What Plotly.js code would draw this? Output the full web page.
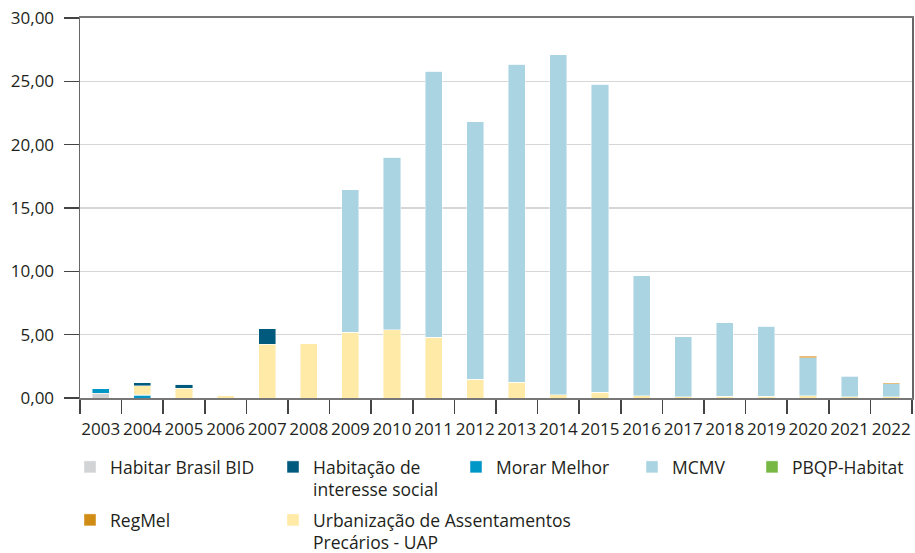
<!DOCTYPE html>
<html>
<head>
<meta charset="utf-8">
<script src="https://cdn.plot.ly/plotly-3.0.1.min.js"></script>
<style>html,body{margin:0;padding:0;background:#fff;}#chart{width:915px;height:553px;}</style>
</head>
<body>
<div id="chart"></div>
<script>
var years = ['2003','2004','2005','2006','2007','2008','2009','2010','2011','2012','2013','2014','2015','2016','2017','2018','2019','2020','2021','2022'];
var habitarBrasilBID = [0.37,0,0,0,0,0,0,0,0,0,0,0,0,0,0,0,0,0,0,0];
var morarMelhor      = [0.40,0.20,0,0,0,0,0,0,0,0,0,0,0,0,0,0,0,0,0,0];
var pbqpHabitat      = [0,0.05,0,0,0,0,0,0,0,0,0,0,0,0,0,0,0,0,0,0];
var uap              = [0,0.71,0.77,0.20,4.25,4.30,5.20,5.40,4.80,1.47,1.24,0.24,0.45,0.18,0.10,0.12,0.12,0.18,0.08,0.10];
var habitacaoSocial  = [0,0.24,0.32,0,1.20,0,0,0,0,0,0,0,0,0,0,0,0,0,0,0];
var mcmv             = [0,0,0,0,0,0,11.26,13.60,21.00,20.33,25.11,26.86,24.32,9.47,4.73,5.81,5.55,3.00,1.64,1.04];
var regMel           = [0,0,0,0,0,0,0,0,0,0,0,0,0,0,0,0,0,0.10,0.05,0.08];

var names = {
  bid: 'Habitar Brasil BID',
  hab: 'Habitação de<br>interesse social',
  mm: 'Morar Melhor',
  mcmv: 'MCMV',
  pbqp: 'PBQP-Habitat',
  reg: 'RegMel',
  uap: 'Urbanização de Assentamentos<br>Precários - UAP'
};

function tr(name, vals, color, leg) {
  return {
    type: 'bar', x: years, y: vals, name: name, legend: leg,
    marker: {color: color, line: {color: 'rgba(255,255,255,0.55)', width: 0.8}},
    hoverinfo: 'x+y+name'
  };
}

var data = [
  tr(names.bid, habitarBrasilBID, '#d2d3d5', 'legend'),
  tr(names.mm, morarMelhor, '#0096c6', 'legend3'),
  tr(names.pbqp, pbqpHabitat, '#76b843', 'legend5'),
  tr(names.uap, uap, '#ffeaa7', 'legend7'),
  tr(names.hab, habitacaoSocial, '#005a7e', 'legend2'),
  tr(names.mcmv, mcmv, '#abd4e2', 'legend4'),
  tr(names.reg, regMel, '#d18c15', 'legend6')
];

var L = 80, R = 3, T = 18, B = 155;
var plotW = 915 - L - R, plotH = 553 - T - B;
function px2x(px) { return (px - 40 - L) / plotW; }
function py2y(py) { return (553 - B - py) / plotH; }

var legFont = {family: 'Open Sans, sans-serif', size: 17.5, color: '#231f20'};
function leg(txtLeft, top) {
  return {x: px2x(txtLeft), y: py2y(top), xanchor: 'left', yanchor: 'top',
          bgcolor: 'rgba(0,0,0,0)', font: legFont, valign: 'top',
          orientation: 'v', borderwidth: 0, itemclick: false};
}

var row1 = 449, row2 = 502;
var layout = {
  width: 915, height: 553,
  margin: {l: L, r: R, t: T, b: B, pad: 0, autoexpand: false},
  paper_bgcolor: '#ffffff', plot_bgcolor: '#ffffff',
  barmode: 'stack', bargap: 0.59,
  separators: ',.',
  font: {family: 'Open Sans, sans-serif', color: '#231f20'},
  xaxis: {
    type: 'category', tickson: 'boundaries', ticks: 'outside', ticklen: 14,
    tickcolor: '#444', tickwidth: 1.5,
    showline: true, mirror: true, linecolor: '#777', linewidth: 2,
    showgrid: false, tickfont: {size: 17, color: '#231f20'}, tickangle: 0,
    ticklabelstandoff: 15,
    automargin: false, fixedrange: true
  },
  yaxis: {
    range: [0, 30], dtick: 5, tickformat: '.2f', ticks: 'outside', ticklen: 15,
    tickcolor: '#444', tickwidth: 1.5,
    showline: true, mirror: true, linecolor: '#666', linewidth: 1.5,
    showgrid: true, gridcolor: '#d6d6d6', gridwidth: 1.5, zeroline: false,
    tickfont: {size: 17, color: '#231f20'}, ticklabelstandoff: 6,
    automargin: false, fixedrange: true
  },
  legend: leg(110, row1),
  legend2: leg(313, row1),
  legend3: leg(496, row1),
  legend4: leg(672, row1),
  legend5: leg(792, row1),
  legend6: leg(110, row2),
  legend7: leg(313, row2),
  showlegend: true
};

Plotly.newPlot('chart', data, layout, {displayModeBar: false, staticPlot: true});
</script>
</body>
</html>
